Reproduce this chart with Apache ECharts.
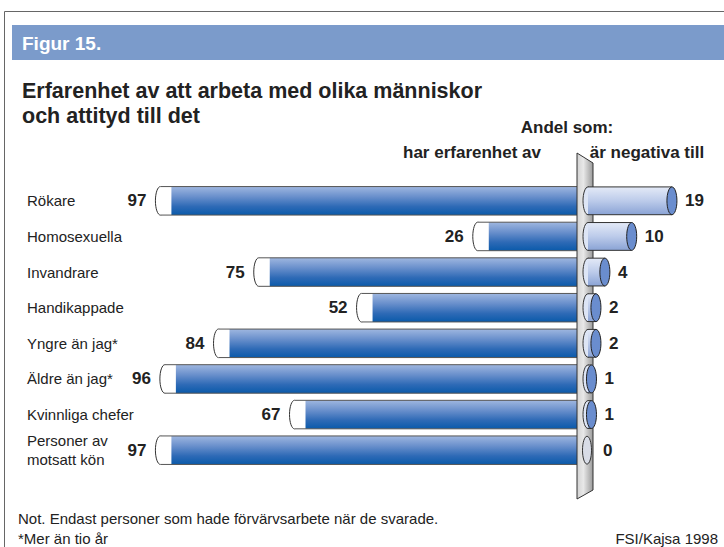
<!DOCTYPE html>
<html>
<head>
<meta charset="utf-8">
<script src="https://cdn.jsdelivr.net/npm/echarts/dist/echarts.min.js"></script>
<style>
  html, body { margin: 0; padding: 0; background: #fff; overflow: hidden; }
  #chart { width: 724px; height: 547px; }
</style>
</head>
<body>
<div id="chart"></div>
<script>
// rows, top to bottom
const categories = [
  "Rökare",
  "Homosexuella",
  "Invandrare",
  "Handikappade",
  "Yngre än jag*",
  "Äldre än jag*",
  "Kvinnliga chefer",
  "Personer av\nmotsatt kön",
];
// percent who have worked with the group
const experience = [97, 26, 75, 52, 84, 96, 67, 97];
// percent who are negative towards it
const negative = [19, 10, 4, 2, 2, 1, 1, 0];

const FONT = '"Liberation Sans", Arial, sans-serif';
const PX = 4.47; // px per percent, same on both sides

const leftBody = {
  type: "linear", x: 0, y: 0, x2: 0, y2: 1,
  colorStops: [
    { offset: 0, color: "#9fb7e0" },
    { offset: 0.35, color: "#6a90cc" },
    { offset: 0.7, color: "#2e6ab6" },
    { offset: 1, color: "#0a5aaa" },
  ],
};
const rightBody = {
  type: "linear", x: 0, y: 0, x2: 0, y2: 1,
  colorStops: [
    { offset: 0, color: "#e4eaf7" },
    { offset: 0.5, color: "#bccbea" },
    { offset: 1, color: "#8aa3d5" },
  ],
};
const plateFill = {
  type: "linear", x: 0, y: 0, x2: 1, y2: 0,
  colorStops: [
    { offset: 0, color: "#d2d2d2" },
    { offset: 0.4, color: "#e8e8e8" },
    { offset: 1, color: "#9a9a9a" },
  ],
};

// left bars: tube with white open end on the left
function renderLeft(params, api) {
  const idx = api.value(1);
  const v = api.value(0);
  const p = api.coord([v, idx]);
  const p0 = api.coord([0, idx]);
  const bh = api.size([0, 1])[1] * 0.8;
  const top = p[1] - bh / 2, bot = p[1] + bh / 2;
  const xl = p[0], xr = p0[0];
  const rx = 5, capW = 16;
  return {
    type: "group",
    children: [
      {
        type: "ellipse",
        shape: { cx: xl + rx, cy: p[1], rx: rx, ry: bh / 2 },
        style: { fill: "#fff", stroke: "#333", lineWidth: 1 },
      },
      {
        type: "rect",
        shape: { x: xl + rx, y: top - 0.5, width: xr - xl - rx, height: bh + 1 },
        style: { fill: "#fff" },
      },
      {
        type: "rect",
        shape: { x: xl + capW, y: top, width: xr - xl - capW, height: bh },
        style: { fill: leftBody },
      },
      {
        type: "polyline",
        shape: { points: [[xl + rx, top], [xr, top]] },
        style: { stroke: "#555", lineWidth: 1, fill: null },
      },
      {
        type: "polyline",
        shape: { points: [[xl + rx, bot], [xr, bot]] },
        style: { stroke: "#555", lineWidth: 1, fill: null },
      },
      {
        type: "text",
        style: {
          text: String(v), x: xl - 9, y: p[1],
          textAlign: "right", textVerticalAlign: "middle",
          font: "bold 17px " + FONT, fill: "#222",
        },
      },
    ],
  };
}

// right bars: lighter tube with a blue end cap
function renderRight(params, api) {
  const idx = api.value(1);
  const v = api.value(0);
  const p = api.coord([v, idx]);
  const p0 = api.coord([0, idx]);
  const bh = api.size([0, 1])[1] * 0.78;
  const top = p[1] - bh / 2, bot = p[1] + bh / 2;
  const xs = p0[0] - 4, xe = p[0];
  const rx = 5;
  const children = [];
  if (v > 0) {
    children.push(
      {
        type: "ellipse",
        shape: { cx: xs + rx, cy: p[1], rx: rx, ry: bh / 2 },
        style: { fill: "#dde5f5", stroke: "#333", lineWidth: 1 },
      },
      {
        type: "rect",
        shape: { x: xs + rx, y: top, width: Math.max(xe - xs - rx, 0), height: bh },
        style: { fill: rightBody },
      },
      {
        type: "polyline",
        shape: { points: [[xs + rx, top], [xe, top]] },
        style: { stroke: "#333", lineWidth: 1, fill: null },
      },
      {
        type: "polyline",
        shape: { points: [[xs + rx, bot], [xe, bot]] },
        style: { stroke: "#333", lineWidth: 1, fill: null },
      },
      {
        type: "ellipse",
        shape: { cx: xe, cy: p[1], rx: rx, ry: bh / 2 },
        style: { fill: "#6a8dce", stroke: "#222", lineWidth: 1 },
      }
    );
  } else {
    children.push({
      type: "ellipse",
      shape: { cx: xe, cy: p[1], rx: 4.5, ry: bh / 2 },
      style: { fill: "#d8dce6", stroke: "#333", lineWidth: 1 },
    });
  }
  children.push({
    type: "text",
    style: {
      text: String(v), x: xe + rx + (v > 0 ? 8 : 11), y: p[1],
      textAlign: "left", textVerticalAlign: "middle",
      font: "bold 17px " + FONT, fill: "#222",
    },
  });
  return { type: "group", children: children };
}

const chart = echarts.init(document.getElementById("chart"), null, { renderer: "svg" });

const gridTop = 183, gridH = 285;
const leftZero = 589, rightZero = 587;

chart.setOption({
  animation: false,
  grid: [
    { left: leftZero - 100 * PX, width: 100 * PX, top: gridTop, height: gridH },
    { left: rightZero, width: 30 * PX, top: gridTop, height: gridH },
  ],
  xAxis: [
    { gridIndex: 0, type: "value", min: 0, max: 100, inverse: true, show: false },
    { gridIndex: 1, type: "value", min: 0, max: 30, show: false },
  ],
  yAxis: [
    {
      gridIndex: 0, type: "category", data: categories, inverse: true,
      axisLine: { show: false }, axisTick: { show: false }, splitLine: { show: false },
      axisLabel: {
        align: "left", margin: leftZero - 100 * PX - 27,
        fontFamily: FONT, fontSize: 15, color: "#222", lineHeight: 19,
      },
    },
    {
      gridIndex: 1, type: "category", data: categories, inverse: true, show: false,
    },
  ],
  graphic: [
    {
      // frame: only top and left edges fall inside the picture
      type: "polyline", z: 0, silent: true,
      shape: { points: [[724, 11.5], [4.5, 11.5], [4.5, 547]] },
      style: { fill: null, stroke: "#666", lineWidth: 1 },
    },
    {
      type: "rect", z: 1,
      shape: { x: 12, y: 25, width: 712, height: 35 },
      style: { fill: "#7b9bcb" },
    },
    {
      type: "text", z: 2,
      style: {
        text: "Figur 15.", x: 22, y: 43, textVerticalAlign: "middle",
        font: "bold 19px " + FONT, fill: "#fff",
      },
    },
    {
      type: "text", z: 2,
      style: {
        text: "Erfarenhet av att arbeta med olika människor\noch attityd till det",
        x: 22, y: 78, lineHeight: 25,
        font: "bold 21.5px " + FONT, fill: "#222",
      },
    },
    {
      type: "text", z: 2,
      style: {
        text: "Andel som:", x: 567, y: 127, textAlign: "center", textVerticalAlign: "middle",
        font: "bold 17px " + FONT, fill: "#222",
      },
    },
    {
      type: "text", z: 2,
      style: {
        text: "har erfarenhet av", x: 472, y: 152, textAlign: "center", textVerticalAlign: "middle",
        font: "bold 17px " + FONT, fill: "#222",
      },
    },
    {
      type: "text", z: 2,
      style: {
        text: "är negativa till", x: 647, y: 152, textAlign: "center", textVerticalAlign: "middle",
        font: "bold 17px " + FONT, fill: "#222",
      },
    },
    {
      // divider plate between the two sides
      type: "polygon", z: 5,
      shape: { points: [[577, 153], [593, 163], [593, 490], [577, 499]] },
      style: { fill: plateFill, stroke: "#333", lineWidth: 1 },
    },
    {
      type: "text", z: 2,
      style: {
        text: "Not. Endast personer som hade förvärvsarbete när de svarade.",
        x: 18, y: 518, textVerticalAlign: "middle",
        font: "15px " + FONT, fill: "#222",
      },
    },
    {
      type: "text", z: 2,
      style: {
        text: "*Mer än tio år", x: 18, y: 538, textVerticalAlign: "middle",
        font: "15px " + FONT, fill: "#222",
      },
    },
    {
      type: "text", z: 2,
      style: {
        text: "FSI/Kajsa 1998", x: 718, y: 538, textAlign: "right", textVerticalAlign: "middle",
        font: "15px " + FONT, fill: "#222",
      },
    },
  ],
  series: [
    {
      type: "custom", z: 2,
      xAxisIndex: 0, yAxisIndex: 0,
      renderItem: renderLeft,
      encode: { x: 0, y: 1 },
      data: experience.map((v, i) => [v, i]),
    },
    {
      type: "custom", z: 8,
      xAxisIndex: 1, yAxisIndex: 1,
      renderItem: renderRight,
      encode: { x: 0, y: 1 },
      data: negative.map((v, i) => [v, i]),
    },
  ],
});
</script>
</body>
</html>
